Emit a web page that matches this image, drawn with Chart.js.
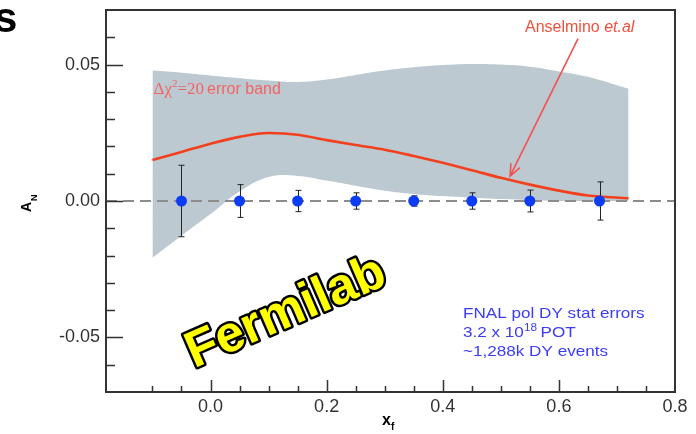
<!DOCTYPE html>
<html>
<head>
<meta charset="utf-8">
<script src="https://cdn.jsdelivr.net/npm/chart.js@4.4.0/dist/chart.umd.min.js"></script>
<style>
  html, body { margin: 0; padding: 0; background: #fff; }
  #wrap { width: 696px; height: 434px; }
</style>
</head>
<body>
<div id="wrap"><canvas id="an_chart" width="696" height="434"></canvas></div>
<script>
// ---- data
const bandX      = [-0.1, -0.05, 0.0, 0.05, 0.1, 0.15, 0.2, 0.25, 0.3, 0.35, 0.4, 0.45, 0.5, 0.55, 0.6, 0.65, 0.72];
const bandUpper  = [0.0478, 0.0470, 0.0460, 0.0450, 0.0442, 0.0436, 0.0445, 0.0462, 0.0478, 0.0490, 0.0498, 0.0502, 0.0500, 0.0492, 0.0475, 0.0455, 0.0411];
const bandLower  = [-0.0208, -0.0127, -0.0048, 0.0035, 0.0088, 0.0092, 0.0075, 0.0056, 0.0038, 0.0026, 0.0018, 0.0012, 0.0007, 0.0003, 0.0, 0.0, 0.0];

const curveX     = [-0.1, -0.05, 0.0, 0.05, 0.1, 0.15, 0.2, 0.25, 0.3, 0.35, 0.4, 0.45, 0.5, 0.55, 0.6, 0.65, 0.72];
const curveY     = [0.0150, 0.0180, 0.0210, 0.0235, 0.0249, 0.0243, 0.0223, 0.0205, 0.0188, 0.0165, 0.0140, 0.0113, 0.0085, 0.0060, 0.0038, 0.0020, 0.0010];

const pointsX    = [-0.05, 0.05, 0.15, 0.25, 0.35, 0.45, 0.55, 0.67];
const pointsY    = [0, 0, 0, 0, 0, 0, 0, 0];
const pointsErr  = [0.0131, 0.0060, 0.0039, 0.0030, 0.0019, 0.0030, 0.0040, 0.0070];

const xTickLabels = [0.0, 0.2, 0.4, 0.6, 0.8];
const yTickLabels = [-0.05, 0.00, 0.05];
const xRange      = [-0.18, 0.8];
const yRange      = [-0.07, 0.07];

const arrowFrom   = [0.633, 0.0595];
const arrowTo     = [0.516, 0.0091];

const charts = {};

function near(v, list) {
    return list.some(t => Math.abs(v - t) < 1e-6);
}
function isStep(v, step) {
    return Math.abs(v / step - Math.round(v / step)) < 1e-6;
}

// ---- extras: error bars, frame, inward ticks, labels
const decorPlugin = {
    id: 'decor',
    beforeDatasetDraw(chart, args) {
        if (args.index !== 0) return;
        const {ctx, scales: {x, y}} = chart;
        ctx.save();
        ctx.strokeStyle = '#222';
        ctx.lineWidth = 1;
        pointsX.forEach((px, i) => {
            const cx  = Math.round(x.getPixelForValue(px)) + 0.5;
            const top = y.getPixelForValue(pointsY[i] + pointsErr[i]);
            const bot = y.getPixelForValue(pointsY[i] - pointsErr[i]);
            ctx.beginPath();
            ctx.moveTo(cx, top); ctx.lineTo(cx, bot);
            ctx.moveTo(cx - 3, top); ctx.lineTo(cx + 3, top);
            ctx.moveTo(cx - 3, bot); ctx.lineTo(cx + 3, bot);
            ctx.stroke();
        });
        ctx.restore();
    },
    afterDraw(chart) {
        const {ctx, chartArea: a, scales: {x, y}} = chart;
        ctx.save();

        // frame
        ctx.strokeStyle = '#333';
        ctx.lineWidth = 2;
        ctx.strokeRect(a.left, a.top, a.right - a.left, a.bottom - a.top);

        // ticks pointing inward
        ctx.lineWidth = 1.5;
        ctx.beginPath();
        x.ticks.forEach(t => {
            if (!isStep(t.value, 0.05) || t.value <= xRange[0] || t.value >= xRange[1]) return;
            const px = Math.round(x.getPixelForValue(t.value)) + 0.5;
            const len = isStep(t.value, 0.2) ? 12 : 6;
            ctx.moveTo(px, a.bottom); ctx.lineTo(px, a.bottom - len);
        });
        y.ticks.forEach(t => {
            if (t.value <= yRange[0] + 1e-6 || t.value >= yRange[1] - 1e-6) return;
            const py = Math.round(y.getPixelForValue(t.value)) + 0.5;
            const len = near(t.value, yTickLabels) ? 17 : 9;
            ctx.moveTo(a.left, py); ctx.lineTo(a.left + len, py);
        });
        ctx.stroke();

        // arrow Anselmino -> curve
        const ax0 = x.getPixelForValue(arrowFrom[0]), ay0 = y.getPixelForValue(arrowFrom[1]);
        const ax1 = x.getPixelForValue(arrowTo[0]),   ay1 = y.getPixelForValue(arrowTo[1]);
        const ang = Math.atan2(ay1 - ay0, ax1 - ax0);
        ctx.strokeStyle = '#f45050';
        ctx.lineWidth = 1.6;
        ctx.beginPath();
        ctx.moveTo(ax0, ay0); ctx.lineTo(ax1, ay1);
        ctx.moveTo(ax1 - 13 * Math.cos(ang - 0.4), ay1 - 13 * Math.sin(ang - 0.4));
        ctx.lineTo(ax1, ay1);
        ctx.lineTo(ax1 - 13 * Math.cos(ang + 0.4), ay1 - 13 * Math.sin(ang + 0.4));
        ctx.stroke();

        // band label
        ctx.fillStyle = '#f26464';
        ctx.textBaseline = 'alphabetic';
        let tx = x.getPixelForValue(-0.1) + 1;
        const ty = 94;
        ctx.font = '17px "Liberation Serif", "DejaVu Serif", serif';
        ctx.fillText('\u0394\u03c7', tx, ty); tx += ctx.measureText('\u0394\u03c7').width;
        ctx.font = '11px "Liberation Serif", serif';
        ctx.fillText('2', tx, ty - 7); tx += ctx.measureText('2').width;
        ctx.font = '17px "Liberation Serif", serif';
        ctx.fillText('=20', tx, ty); tx += ctx.measureText('=20').width + 3;
        ctx.font = '16px "Liberation Sans", Arial, sans-serif';
        ctx.fillText('error band', tx, ty);

        // Anselmino et.al
        ctx.fillStyle = '#f0503c';
        ctx.font = '16px "Liberation Sans", Arial, sans-serif';
        ctx.fillText('Anselmino ', 525, 32);
        const aw = ctx.measureText('Anselmino ').width;
        ctx.font = 'italic 16px "Liberation Sans", Arial, sans-serif';
        ctx.fillText('et.al', 525 + aw, 32);

        // FNAL note
        ctx.fillStyle = '#3c3cf5';
        ctx.save();
        ctx.translate(463, 0);
        ctx.scale(1.18, 1);
        ctx.font = '14.5px "Liberation Sans", Arial, sans-serif';
        ctx.fillText('FNAL pol DY stat errors', 0, 318);
        let sx = 0;
        ctx.fillText('3.2 x 10', sx, 337); sx += ctx.measureText('3.2 x 10').width;
        ctx.font = '10px "Liberation Sans", Arial, sans-serif';
        ctx.fillText('18', sx, 331); sx += ctx.measureText('18').width + 3;
        ctx.font = '14.5px "Liberation Sans", Arial, sans-serif';
        ctx.fillText('POT', sx, 337);
        ctx.fillText('~1,288k DY events', 0, 356);
        ctx.restore();

        // axis titles
        ctx.fillStyle = '#000';
        ctx.save();
        ctx.translate(31, 212);
        ctx.rotate(-Math.PI / 2);
        ctx.font = 'bold 14px "Liberation Sans", Arial, sans-serif';
        ctx.fillText('A', 0, 0);
        const awA = ctx.measureText('A').width;
        ctx.font = 'bold 9px "Liberation Sans", Arial, sans-serif';
        ctx.fillText('N', awA + 1, 6);
        ctx.restore();

        ctx.font = 'bold 16px "Liberation Sans", Arial, sans-serif';
        ctx.fillText('x', 382, 425);
        const xw = ctx.measureText('x').width;
        ctx.font = 'bold 10px "Liberation Sans", Arial, sans-serif';
        ctx.fillText('f', 382 + xw, 430);

        // cut-off title letter
        ctx.font = 'bold 42px "Liberation Sans", Arial, sans-serif';
        ctx.fillText('s', -6, 32);

        // Fermilab stamp
        ctx.save();
        ctx.translate(286, 313);
        ctx.rotate(-23.5 * Math.PI / 180);
        ctx.font = 'bold 51px "Liberation Sans", Arial, sans-serif';
        ctx.textAlign = 'center';
        ctx.textBaseline = 'middle';
        ctx.lineJoin = 'round';
        ctx.lineWidth = 5;
        ctx.strokeStyle = '#000';
        ctx.strokeText('Fermilab', 0, 0);
        ctx.fillStyle = '#ffff00';
        ctx.fillText('Fermilab', 0, 0);
        ctx.restore();

        ctx.restore();
    }
};

function drawChart() {
    const chartId = '#an_chart';
    if (charts[chartId]) charts[chartId].destroy();

    const toPts = (xs, ys) => xs.map((v, i) => ({x: v, y: ys[i]}));
    const ctx = document.querySelector(chartId).getContext('2d');

    charts[chartId] = new Chart(ctx, {
        type: 'line',
        data: {
            datasets: [
                {   // stat error points
                    data: toPts(pointsX, pointsY),
                    showLine: false,
                    pointRadius: 5.5,
                    pointBackgroundColor: '#0c3cf4',
                    pointBorderWidth: 0,
                },
                {   // Anselmino curve
                    data: toPts(curveX, curveY),
                    borderColor: '#f2401e',
                    borderWidth: 2.6,
                    pointRadius: 0,
                    cubicInterpolationMode: 'monotone',
                    fill: false,
                },
                {   // zero line
                    data: [{x: xRange[0], y: 0}, {x: xRange[1], y: 0}],
                    borderColor: '#8c8c8c',
                    borderWidth: 2,
                    borderDash: [11, 6],
                    pointRadius: 0,
                    fill: false,
                },
                {   // band upper
                    data: toPts(bandX, bandUpper),
                    borderWidth: 0,
                    borderColor: 'rgba(0,0,0,0)',
                    pointRadius: 0,
                    tension: 0.4,
                    fill: {target: 4},
                    backgroundColor: 'rgb(189,201,209)',
                },
                {   // band lower
                    data: toPts(bandX, bandLower),
                    borderWidth: 0,
                    borderColor: 'rgba(0,0,0,0)',
                    pointRadius: 0,
                    tension: 0.4,
                    fill: false,
                },
            ],
        },
        options: {
            responsive: false,
            animation: false,
            layout: { padding: { left: 0, top: 10, right: 21, bottom: 0 } },
            plugins: { legend: { display: false }, tooltip: { enabled: false } },
            scales: {
                x: {
                    type: 'linear',
                    min: xRange[0], max: xRange[1],
                    grid: { display: false, drawTicks: false },
                    border: { display: false },
                    afterFit: (scale) => { scale.height = 42; scale.paddingLeft = 0; scale.paddingRight = 0; },
                    ticks: {
                        stepSize: 0.05,
                        autoSkip: false,
                        maxRotation: 0,
                        padding: 4,
                        color: '#333',
                        font: { family: '"Liberation Sans", Arial, sans-serif', size: 18 },
                        callback: (v) => near(v, xTickLabels) ? v.toFixed(1) : '',
                    },
                },
                y: {
                    min: yRange[0], max: yRange[1],
                    grid: { display: false, drawTicks: false },
                    border: { display: false },
                    afterFit: (scale) => { scale.width = 106; scale.paddingTop = 0; scale.paddingBottom = 0; },
                    ticks: {
                        stepSize: 0.01,
                        autoSkip: false,
                        padding: 6,
                        color: '#333',
                        font: { family: '"Liberation Sans", Arial, sans-serif', size: 18 },
                        callback: (v) => near(v, yTickLabels) ? v.toFixed(2) : '',
                    },
                },
            },
        },
        plugins: [decorPlugin],
    });
}

(function () {
    "use strict";
    drawChart();
})();
</script>
</body>
</html>
